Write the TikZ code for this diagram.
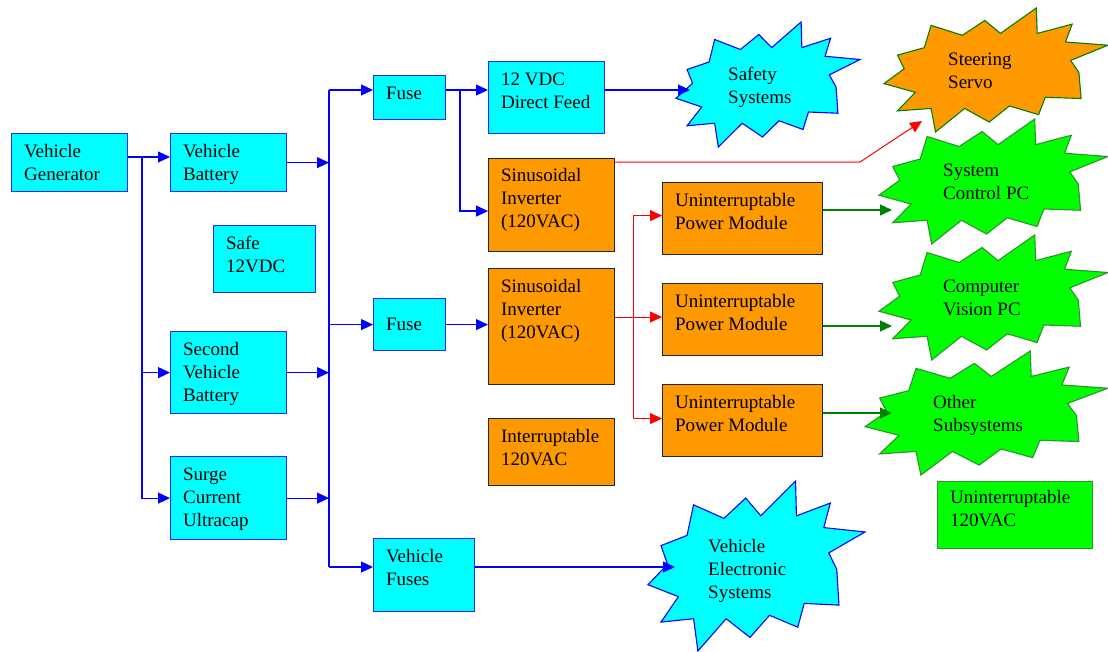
\documentclass[tikz,border=0pt]{standalone}
\usepackage{fontspec}
\setmainfont{Liberation Serif}
\usetikzlibrary{arrows.meta,calc}
\definecolor{cy}{RGB}{0,255,255}
\definecolor{cyline}{RGB}{40,40,255}
\definecolor{org}{RGB}{255,153,0}
\definecolor{grn}{RGB}{0,255,0}
\definecolor{dgrn}{RGB}{0,128,0}
\definecolor{bgrn}{RGB}{40,150,40}
\newcommand\bx[4][24]{\parbox[c][#3pt][t]{#2pt}{\raggedright\leftskip=12.5pt\relax\rule{0pt}{#1pt}#4}}
\def\burstpoly{(0.68,0) -- (0.684,0.205) -- (0.84,0.13) -- (0.81,0.274) -- (1,0.30) -- (0.833,0.423) -- (0.87,0.52) -- (0.88,0.73) -- (0.72,0.72) -- (0.69,0.86) -- (0.56,0.79) -- (0.47,0.92) -- (0.36,0.81) -- (0.23,1) -- (0.21,0.81) -- (0.06,0.83) -- (0.14,0.68) -- (0,0.61) -- (0.09,0.49) -- (0.06,0.38) -- (0.18,0.32) -- (0.21,0.14) -- (0.35,0.22) -- (0.45,0.10) -- (0.52,0.205) -- cycle}
\newcommand\drawburst[4]{\begin{scope}[shift={(#1.north west)},x=#2pt,y=-#3pt]\filldraw[#4] \burstpoly;\end{scope}}
\begin{document}
\begin{tikzpicture}[x=1pt,y=-1pt,
  font=\fontsize{19pt}{23pt}\selectfont,
  cbox/.style={draw=cyline, fill=cy, line width=1.2pt, inner sep=0pt, anchor=north west},
  obox/.style={draw=black!85, fill=org, line width=1.1pt, inner sep=0pt, anchor=north west},
  gbox/.style={draw=bgrn, fill=grn, line width=1.1pt, inner sep=0pt, anchor=north west},
  burstbox/.style 2 args={inner sep=0pt, anchor=north west, minimum width=#1pt, minimum height=#2pt},
  btext/.style={anchor=base west, inner sep=0pt},
  bline/.style={draw=blue, line width=1.2pt},
  barrow/.style={bline, -{Triangle[length=12pt,width=11pt]}},
  rline/.style={draw=red, line width=1pt},
  rarrow/.style={rline, -{Triangle[length=12pt,width=11pt]}},
  garrow/.style={draw=dgrn, line width=1.1pt, -{Triangle[length=12pt,width=11pt]}},
  cburst/.style={fill=cy, draw=blue, line width=1.1pt},
  oburst/.style={fill=org, draw=dgrn, line width=1.1pt},
  gburst/.style={fill=grn, draw=bgrn, line width=1.1pt}]
\useasboundingbox[fill=white] (0,0) rectangle (1108,651);

% rectangular blocks
\node[cbox] (gen) at (11,133) {\bx{116}{58}{Vehicle\\Generator}};
\node[cbox] (vbat) at (170,133) {\bx{116}{58}{Vehicle\\Battery}};
\node[cbox] (safe) at (213,225) {\bx{102}{67}{Safe\\12VDC}};
\node[cbox] (vbat2) at (170,331) {\bx{116}{82}{Second\\Vehicle\\Battery}};
\node[cbox] (surge) at (170,456) {\bx{116}{83}{Surge\\Current\\Ultracap}};
\node[cbox] (fuse1) at (373,75) {\bx{72}{44}{Fuse}};
\node[cbox] (fuse2) at (373,298) {\bx[32]{72}{52}{Fuse}};
\node[cbox] (vfuses) at (373,538) {\bx{101}{73}{Vehicle\\Fuses}};
\node[cbox] (dc12) at (488,61) {\bx{116}{72}{12 VDC\\Direct Feed}};
\node[obox] (inv1) at (488,158) {\bx[23]{126}{93}{Sinusoidal\\Inverter\\(120VAC)}};
\node[obox] (inv2) at (488,268) {\bx{126}{116}{Sinusoidal\\Inverter\\(120VAC)}};
\node[obox] (intr) at (488,418) {\bx{126}{67}{Interruptable\\120VAC}};
\node[obox] (upm1) at (662,182) {\bx[23.5]{160}{72}{Uninterruptable\\Power Module}};
\node[obox] (upm2) at (662,283) {\bx[23.5]{160}{72}{Uninterruptable\\Power Module}};
\node[obox] (upm3) at (662,384) {\bx[23.5]{160}{72}{Uninterruptable\\Power Module}};
\node[gbox] (legend) at (937,481) {\bx[22]{155}{67}{Uninterruptable\\120VAC}};

% starbursts
\node[burstbox={184}{125}] (safety) at (676,22) {};
\node[burstbox={224}{124}] (servo) at (884,8) {};
\node[burstbox={229}{125}] (sysctl) at (879,119) {};
\node[burstbox={229}{125}] (cvpc) at (879,235) {};
\node[burstbox={243}{124}] (other) at (865,351) {};
\node[burstbox={217}{170}] (ves) at (648,481) {};
\drawburst{safety}{184}{125}{cburst}
\drawburst{servo}{224}{124}{oburst}
\drawburst{sysctl}{229}{125}{gburst}
\drawburst{cvpc}{229}{125}{gburst}
\drawburst{other}{243}{124}{gburst}
\drawburst{ves}{217}{170}{cburst}
\node[btext] (safetyT) at (728,80) {\parbox[t]{130pt}{Safety\\Systems}};
\node[btext] (servoT) at (948,65) {\parbox[t]{130pt}{Steering\\Servo}};
\node[btext] (sysctlT) at (943,176) {\parbox[t]{130pt}{System\\Control PC}};
\node[btext] (cvpcT) at (943,292) {\parbox[t]{130pt}{Computer\\Vision PC}};
\node[btext] (otherT) at (933,408) {\parbox[t]{130pt}{Other\\Subsystems}};
\node[btext] (vesT) at (708,552) {\parbox[t]{130pt}{Vehicle\\Electronic\\Systems}};

% junctions and connector ends
\coordinate (gbr) at (142,157);
\coordinate (busT) at (329,90);
\coordinate (busB) at (329,567);
\coordinate (fbr) at (460,90);
\coordinate (rbr) at (633,317);
\coordinate (rbend) at (860,162);
\coordinate (safetyIn) at (690,90);
\coordinate (servoIn) at (922,121);
\coordinate (sysIn) at (892,210);
\coordinate (cvIn) at (892,326);
\coordinate (otherIn) at (892,413);
\coordinate (vesIn) at (675,567);

% blue connectors
\draw[barrow] (gen.east |- gbr) -- (vbat.west |- gbr);
\draw[barrow] (gbr) |- (vbat2.west);
\draw[barrow] (gbr) |- (surge.west);
\draw[barrow] (vbat.east) -- (vbat.east -| busT);
\draw[barrow] (vbat2.east) -- (vbat2.east -| busT);
\draw[barrow] (surge.east) -- (surge.east -| busT);
\draw[bline] (busT) -- (busB);
\draw[barrow] (busT) -- (busT -| fuse1.west);
\draw[barrow] (fuse2.west -| busT) -- (fuse2.west);
\draw[barrow] (busB) -- (busB -| vfuses.west);
\draw[barrow] (fuse1.east |- busT) -- (dc12.west |- busT);
\draw[barrow] (fbr) |- ([yshift=-6pt]inv1.west);
\draw[barrow] (dc12.east |- safetyIn) -- (safetyIn);
\draw[barrow] (fuse2.east) -- (fuse2.east -| inv2.west);
\draw[barrow] (vfuses.east |- vesIn) -- (vesIn);

% red connectors
\draw[rarrow] (inv1.east |- rbend) -- (rbend) -- (servoIn);
\draw[rline] (inv2.east |- rbr) -- (rbr);
\draw[rarrow] (rbr) -- (rbr -| upm2.west);
\draw[rarrow] (rbr) |- ([yshift=3pt]upm1.west);
\draw[rarrow] (rbr) |- ([yshift=2pt]upm3.west);

% green connectors
\draw[garrow] (upm1.east |- sysIn) -- (sysIn);
\draw[garrow] (upm2.east |- cvIn) -- (cvIn);
\draw[garrow] (upm3.east |- otherIn) -- (otherIn);
\end{tikzpicture}
\end{document}
